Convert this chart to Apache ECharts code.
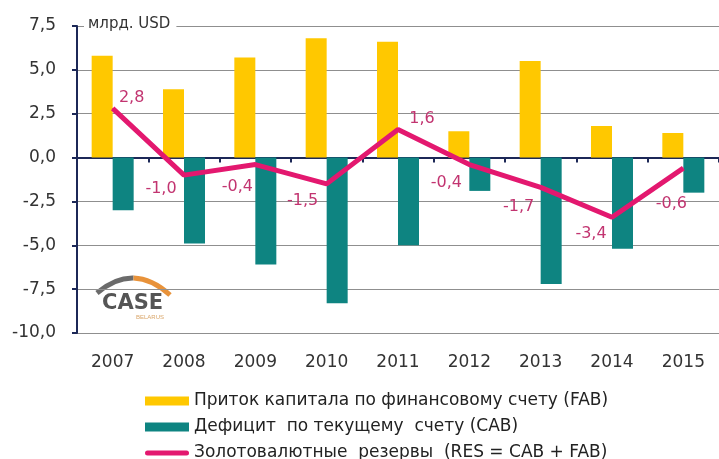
<!DOCTYPE html>
<html>
<head>
<meta charset="utf-8">
<script src="https://cdn.jsdelivr.net/npm/echarts@6/dist/echarts.min.js"></script>
<style>
  html, body { margin: 0; padding: 0; background: #fff; }
  #chart { width: 719px; height: 459px; }
</style>
</head>
<body>
<div id="chart"></div>
<script>
// годы
const years = ['2007', '2008', '2009', '2010', '2011', '2012', '2013', '2014', '2015']
// приток капитала по финансовому счету (FAB), млрд. USD
const fab = [5.8, 3.9, 5.7, 6.8, 6.6, 1.5, 5.5, 1.8, 1.4]
// дефицит по текущему счету (CAB)
const cab = [-3.0, -4.9, -6.1, -8.3, -5.0, -1.9, -7.2, -5.2, -2.0]
// золотовалютные резервы (RES = CAB + FAB)
const res = [2.8, -1.0, -0.4, -1.5, 1.6, -0.4, -1.7, -3.4, -0.6]

const seriesNames = [
  'Приток капитала по финансовому счету (FAB)',
  'Дефицит  по текущему  счету (CAB)',
  'Золотовалютные  резервы  (RES = CAB + FAB)'
]

// сдвиг подписей линии относительно точки
const resLabelOffset = [[19, -11], [-23, 14], [-18, 22], [-24, 17], [24, -11], [-23, 18], [-22, 19], [-21, 17], [-12, 36]]

const comma = v => Number(v).toFixed(1).replace('.', ',')
const navy = '#1c2857'
const font = 'DejaVu Sans'

const chart = echarts.init(document.getElementById('chart'))

const option = {
  animation: false,
  textStyle: { fontFamily: font },
  grid: {
    left: 77,
    right: -11,
    top: 26,
    bottom: 126
  },
  legend: {
    orient: 'vertical',
    left: 140,
    top: 386,
    height: 100,
    itemWidth: 44,
    itemHeight: 9,
    itemGap: 6,
    selectedMode: false,
    textStyle: { fontFamily: font, fontSize: 17, color: '#222', lineHeight: 20 },
    data: [
      { name: seriesNames[0], icon: 'rect' },
      { name: seriesNames[1], icon: 'rect' },
      { name: seriesNames[2], icon: 'path://M2.5,0 H41.5 A2.5,2.5 0 0 1 41.5,5 H2.5 A2.5,2.5 0 0 1 2.5,0 Z' }
    ]
  },
  xAxis: [{
    type: 'category',
    position: 'bottom',
    data: years,
    axisLine: { onZero: true, lineStyle: { color: navy, width: 2 } },
    axisTick: { show: true, length: 5, lineStyle: { color: navy, width: 2 } },
    axisLabel: { show: false },
    splitLine: { show: false }
  }, {
    type: 'category',
    position: 'bottom',
    data: years,
    axisLine: { show: false, onZero: false },
    axisTick: { show: false },
    axisLabel: { margin: 21, fontSize: 17, color: '#333', fontFamily: font },
    splitLine: { show: false }
  }],
  yAxis: [{
    type: 'value',
    min: -10,
    max: 7.5,
    interval: 2.5,
    axisLine: { show: true, lineStyle: { color: navy, width: 2 } },
    axisTick: { show: true, length: 5, lineStyle: { color: navy, width: 2 } },
    axisLabel: { margin: 21, fontSize: 17, color: '#333', fontFamily: font, formatter: comma },
    splitLine: { lineStyle: { color: '#8f8f8f', width: 1 } }
  }],
  graphic: [
    {
      type: 'text',
      left: 84,
      top: 16,
      z: 100,
      style: {
        text: 'млрд. USD',
        font: '15px "DejaVu Sans"',
        fill: '#333',
        backgroundColor: '#fff',
        padding: [1, 6, 1, 4]
      }
    },
    {
      type: 'group',
      left: 92,
      top: 274,
      z: 100,
      children: [
        { type: 'rect', shape: { x: 0, y: 0, width: 82, height: 48 }, style: { fill: '#fff' } },
        { type: 'bezierCurve', shape: { x1: 5, y1: 19, cpx1: 23.25, cpy1: 3.5, x2: 41.5, y2: 4 }, style: { stroke: '#6b6b6b', lineWidth: 5, fill: null } },
        { type: 'bezierCurve', shape: { x1: 41.5, y1: 4, cpx1: 59.75, cpy1: 4.5, x2: 78, y2: 21 }, style: { stroke: '#e8923a', lineWidth: 5, fill: null } },
        { type: 'text', x: 10, y: 19, style: { text: 'CASE', font: 'bold 21px "DejaVu Sans"', fill: '#555', stroke: '#fff', lineWidth: 1 } },
        { type: 'text', x: 44, y: 40, style: { text: 'BELARUS', font: '6px "Liberation Sans"', fill: '#d9a66a' } }
      ]
    }
  ],
  series: [{
    name: seriesNames[0],
    type: 'bar',
    xAxisIndex: 0,
    barWidth: 21,
    barGap: '0%',
    itemStyle: { color: '#ffc800' },
    data: fab
  }, {
    name: seriesNames[1],
    type: 'bar',
    xAxisIndex: 0,
    barWidth: 21,
    barGap: '0%',
    itemStyle: { color: '#0e8481' },
    data: cab
  }, {
    name: seriesNames[2],
    type: 'line',
    xAxisIndex: 0,
    z: 5,
    symbol: 'circle',
    symbolSize: 1,
    itemStyle: { color: '#e3186f' },
    lineStyle: { color: '#e3186f', width: 5 },
    label: {
      show: true,
      position: 'inside',
      color: '#c23470',
      fontSize: 16,
      fontFamily: font,
      formatter: p => comma(p.value)
    },
    data: res.map((v, i) => ({ value: v, label: { offset: resLabelOffset[i] } }))
  }]
}

chart.setOption(option)
</script>
</body>
</html>
